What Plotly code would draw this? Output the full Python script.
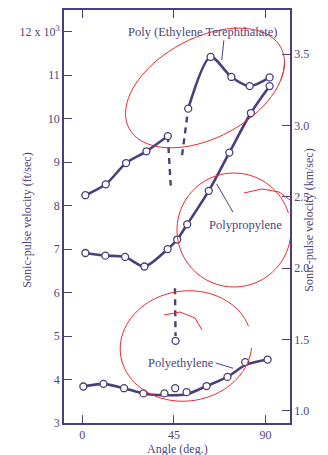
import numpy as np
import plotly.graph_objects as go

# ---------------- data ----------------
# Poly (Ethylene Terephthalate), ft/sec (x 10^3)
pet_left_angle = [1.5, 11.5, 21.5, 31.5, 42.0]
pet_left_vel = [8.24, 8.49, 8.98, 9.25, 9.60]
pet_left_dash_angle = [42.0, 43.4]
pet_left_dash_vel = [9.60, 8.46]
pet_right_dash_angle = [49.0, 52.0]
pet_right_dash_vel = [9.16, 10.23]
pet_right_angle = [52.0, 63.0, 73.2, 82.2, 92.0]
pet_right_vel = [10.23, 11.42, 10.96, 10.75, 10.95]

# Polypropylene
pp_angle = [1.5, 11.3, 21.0, 30.5, 41.9, 46.6, 51.5, 62.1, 72.2, 82.8, 92.0]
pp_vel = [6.91, 6.85, 6.82, 6.60, 7.00, 7.22, 7.57, 8.34, 9.22, 10.13, 10.75]

# Polyethylene (points)
pe_angle = [0.5, 10.4, 20.5, 30.0, 40.3, 45.6, 51.2, 61.0, 71.3, 80.0, 91.0]
pe_vel = [3.84, 3.90, 3.80, 3.68, 3.68, 3.80, 3.71, 3.85, 4.06, 4.40, 4.46]
# Polyethylene smooth curve (passes below the 45 deg point)
pe_curve_angle = [0.5, 10.4, 20.5, 30.0, 40.3, 51.2, 61.0, 71.3, 80.0, 91.0]
pe_curve_vel = [3.84, 3.90, 3.80, 3.68, 3.64, 3.66, 3.85, 4.06, 4.33, 4.46]
# isolated point and dashed segment at 45 deg
pe_iso_angle = [45.8]
pe_iso_vel = [4.89]
pe_dash_angle = [45.5, 45.8]
pe_dash_vel = [6.10, 5.00]

ft_ticks = [3, 4, 5, 6, 7, 8, 9, 10, 11, 12]
ft_ticktext = ["3", "4", "5", "6", "7", "8", "9", "10", "11", "12 x 10<sup>3</sup>"]
km_ticks = [1.0, 1.5, 2.0, 2.5, 3.0, 3.5]
angle_ticks = [0, 45, 90]

FT_PER_KM = 3.28084  # (x10^3 ft) per km
ft_range = [3.0, 12.5]
angle_range = [-9, 102]

# ---------------- style ----------------
INK = "#4a3f7c"
TXT = "#4d4680"
RED = "#f0282d"
FONT = "Liberation Serif"
OFF = 8  # default page body margin of the browser
W, H = 328 - OFF, 455 - OFF
ML, MR, MT, MB = 64 - OFF, 38, 10 - OFF, 32

fig = go.Figure()

def solid(x, y, show_markers=True):
    fig.add_trace(go.Scatter(
        x=x, y=y, mode="lines+markers" if show_markers else "lines",
        line=dict(color=INK, width=2.6, shape="spline", smoothing=0.8),
        marker=dict(size=7, color="white", line=dict(color=INK, width=1.3)),
        showlegend=False, hoverinfo="skip"))

def dashed(x, y):
    fig.add_trace(go.Scatter(
        x=x, y=y, mode="lines",
        line=dict(color=INK, width=2.4, dash="6px,5px"),
        showlegend=False, hoverinfo="skip"))

def points(x, y):
    fig.add_trace(go.Scatter(
        x=x, y=y, mode="markers",
        marker=dict(size=7, color="white", line=dict(color=INK, width=1.3)),
        showlegend=False, hoverinfo="skip"))

dashed(pet_left_dash_angle, pet_left_dash_vel)
dashed(pet_right_dash_angle, pet_right_dash_vel)
solid(pet_left_angle, pet_left_vel)
solid(pet_right_angle, pet_right_vel)
solid(pp_angle, pp_vel)
solid(pe_curve_angle, pe_curve_vel, show_markers=False)
dashed(pe_dash_angle, pe_dash_vel)
points(pe_angle, pe_vel)
points(pe_iso_angle, pe_iso_vel)

# invisible trace on secondary axis to activate it
fig.add_trace(go.Scatter(x=[None], y=[None], yaxis="y2", showlegend=False))

# ---------------- labels & leader lines ----------------
lab = dict(family=FONT, size=12.5, color=TXT)
fig.add_annotation(x=59.3, y=12.0, text="Poly (Ethylene Terephthalate)", showarrow=False,
                   font=lab, xanchor="center", yanchor="middle")
fig.add_shape(type="line", x0=69.5, y0=11.8, x1=68.5, y1=11.35, line=dict(color=INK, width=1))

fig.add_annotation(x=61.0, y=7.55, text="Polypropylene", showarrow=False,
                   font=lab, xanchor="left", yanchor="middle")
fig.add_shape(type="line", x0=74, y0=7.85, x1=66, y1=8.5, line=dict(color=INK, width=1))

fig.add_annotation(x=31.5, y=4.38, text="Polyethylene", showarrow=False,
                   font=lab, xanchor="left", yanchor="middle")
fig.add_shape(type="line", x0=65.5, y0=4.38, x1=74, y1=4.26, line=dict(color=INK, width=1))

# axis titles
tfont = dict(family=FONT, size=12, color=TXT)
fig.add_annotation(xref="paper", yref="paper", x=0, y=0.49, xshift=-46, text="Sonic-pulse velocity (ft/sec)",
                   textangle=-90, showarrow=False, font=tfont)
fig.add_annotation(xref="paper", yref="paper", x=1, y=0.49, xshift=28, text="Sonic-pulse velocity (km/sec)",
                   textangle=-90, showarrow=False, font=tfont)
fig.add_annotation(xref="paper", yref="paper", x=0.5, y=0, yshift=-17, yanchor="top",
                   text="Angle (deg.)", showarrow=False, font=tfont)

# ---------------- red hand-drawn marks (decoration over the printed chart) ----------------
PL, PT = 64, 10          # plot-area corner in the page
pw, ph = 226, 413        # plot-area size in the page
def px2data(px, py):
    xd = angle_range[0] + (px - PL) / pw * (angle_range[1] - angle_range[0])
    yd = ft_range[1] - (py - PT) / ph * (ft_range[1] - ft_range[0])
    return xd, yd

def ellipse_path(cx, cy, rx, ry, rot_deg, t0=0.0, t1=2 * np.pi, n=80):
    t = np.linspace(t0, t1, n)
    r = np.deg2rad(rot_deg)
    xs = cx + rx * np.cos(t) * np.cos(r) - ry * np.sin(t) * np.sin(r)
    ys = cy + rx * np.cos(t) * np.sin(r) + ry * np.sin(t) * np.cos(r)
    pts = [px2data(a, b) for a, b in zip(xs, ys)]
    return "M " + " L ".join(f"{a:.3f},{b:.3f}" for a, b in pts)

def polyline_path(pix):
    pts = [px2data(a, b) for a, b in pix]
    return "M " + " L ".join(f"{a:.3f},{b:.3f}" for a, b in pts)

red_line = dict(color=RED, width=1)
fig.add_shape(type="path", path=ellipse_path(205, 88, 86, 50, -28, 0.3, 2 * np.pi + 0.6), line=red_line)
fig.add_shape(type="path", path=ellipse_path(234, 230, 57, 57, 0, 0.0, 2 * np.pi - 0.3), line=red_line)
fig.add_shape(type="path", path=polyline_path([(244, 193), (262, 189), (279, 192), (290, 200), (296, 196)]), line=red_line)
fig.add_shape(type="path", path=ellipse_path(186, 346, 66, 55, -8, 0.2, 2 * np.pi - 0.2), line=red_line)
fig.add_shape(type="path", path=polyline_path([(164, 315), (180, 312), (195, 318), (202, 330)]), line=red_line)
fig.add_shape(type="path", path=polyline_path([(310, 300), (315, 290), (320, 283), (327, 278)]), line=red_line)
fig.add_shape(type="path", path=polyline_path([(318, 288), (322, 296)]), line=red_line)

axis_common = dict(
    showline=True, linecolor=INK, linewidth=1.6,
    ticks="inside", ticklen=8, tickwidth=1.4, tickcolor=INK,
    showgrid=False, zeroline=False, automargin=False,
    tickfont=dict(family=FONT, size=12, color=TXT),
)

fig.update_layout(
    width=W, height=H,
    margin=dict(l=ML, r=MR, t=MT, b=MB),
    paper_bgcolor="white", plot_bgcolor="white",
    xaxis=dict(range=angle_range, tickvals=angle_ticks, mirror="ticks", **axis_common),
    yaxis=dict(range=ft_range, tickvals=ft_ticks, ticktext=ft_ticktext, **axis_common),
    yaxis2=dict(range=[ft_range[0] / FT_PER_KM, ft_range[1] / FT_PER_KM], tickvals=km_ticks,
                tickformat=".1f", overlaying="y", side="right", **axis_common),
)

fig.write_html("out.html")
